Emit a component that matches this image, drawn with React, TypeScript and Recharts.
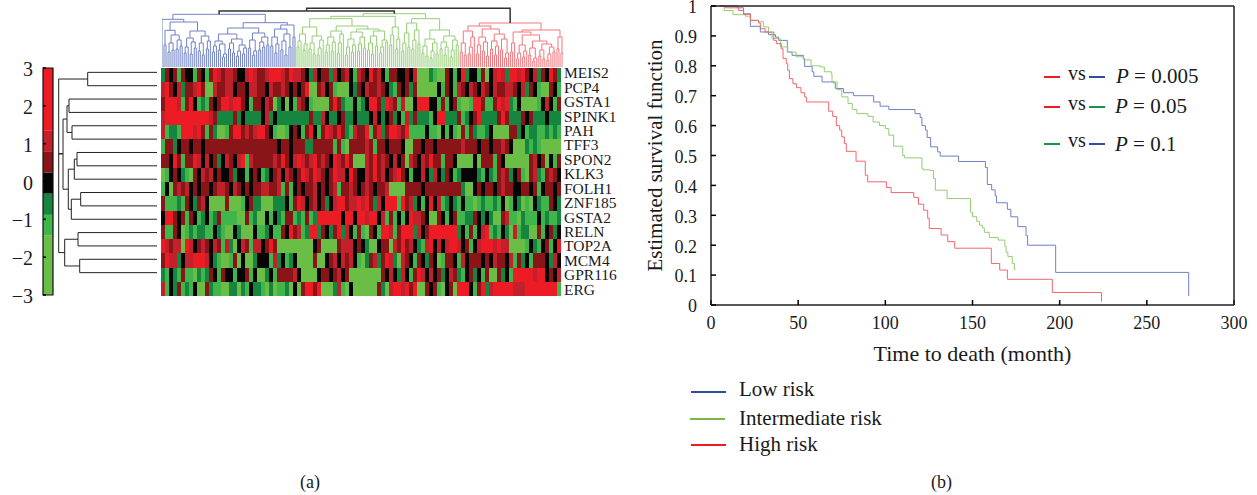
import React from 'react';
import {
  Bar,
  BarChart,
  Cell,
  Line,
  LineChart,
  ReferenceArea,
  XAxis,
  YAxis,
} from 'recharts';

const SERIF = '"Liberation Serif", serif';

// panel (a): expression levels per gene, -3 .. 3, left to right
const MEIS2 = [-1,1,0,1,-2,1,0,0,-2,1,0,-2,1,3,2,1,2,2,1,0,0,2,3,2,1,1,2,3,3,3,2,1,3,2,2,1,0,-1,2,0,1,1,-1,2,0,1,2,0,-2,2,1,0,3,1,2,0,-2,1,1,0,0,1,0,2,-3,-3,-3,-1,-2,-3,-3,1,0,-2,0,3,-1,0,0,-2,1,-3,0,2,3,2,-1,3,3,2,3,1,0,2,-1,1,0,3,1,-1];
const PCP4 = [2,3,1,0,2,-1,1,1,2,3,1,-3,-3,2,1,1,2,2,0,1,1,0,2,2,1,1,0,2,1,1,2,1,0,1,0,1,3,-3,-3,1,2,0,1,-2,-3,-3,-3,0,-1,1,0,2,1,1,2,1,0,-1,-2,1,0,1,-1,1,-3,-3,-3,-3,-3,0,-2,1,0,-2,2,1,0,2,1,0,2,1,0,2,1,1,2,2,1,0,2,-1,1,0,-2,-3,-3,1,0,-2];
const GSTA1 = [1,3,3,3,2,-2,1,3,0,-2,-1,-2,1,0,1,3,3,2,3,3,1,0,-2,1,1,0,2,1,-3,-1,0,-3,0,-2,2,1,0,-2,-3,-3,-3,-3,1,3,1,-1,-2,-2,0,-2,-1,0,3,3,1,-1,3,2,1,-2,2,-3,-3,0,3,3,3,0,0,-2,1,-2,0,1,-2,-3,-3,-2,3,3,1,-2,-2,1,3,2,3,-1,-2,0,-3,-3,-3,-3,-2,0,2,0,-2,1];
const SPINK1 = [2,3,3,3,3,3,3,3,3,3,3,3,2,1,-1,-1,-1,-1,1,-1,0,-1,-1,-1,-1,0,2,-1,0,-1,-1,-1,-1,-1,-1,-1,-1,1,-1,-1,2,0,-1,-1,0,1,-1,-1,0,-1,-1,-1,0,2,0,-1,0,1,-1,0,-2,2,-1,1,-1,-1,-1,-2,0,3,3,-1,-1,-1,1,-2,-1,0,1,3,-1,-1,-1,-1,1,3,1,-1,-1,-1,1,0,1,-1,-1,-1,0,-1,-1,-1];
const PAH = [2,-2,-1,-1,-2,3,3,3,2,3,1,-2,1,-1,-3,-3,-2,1,3,3,1,2,1,2,3,3,1,0,-2,-3,-3,-2,0,1,0,-2,1,3,0,-2,1,3,2,1,3,1,-1,-2,2,1,1,3,-2,1,3,-1,1,3,3,2,1,3,-2,-2,-2,-2,0,-2,-2,-3,0,-2,0,-2,-3,1,-2,1,-1,-2,-2,-1,0,-3,-3,-3,-3,1,1,-1,0,-2,-1,-1,-2,-2,-1,-2,-1,-2];
const TFF3 = [-2,1,1,-1,0,1,1,0,1,1,0,1,1,1,1,1,1,1,1,1,1,1,1,1,1,1,1,1,1,0,1,1,0,1,1,1,-1,-1,1,1,1,1,1,-2,1,-2,-3,1,1,1,1,2,1,-2,1,1,0,1,1,1,0,-3,-3,1,1,0,1,1,0,1,1,1,1,1,1,2,1,1,1,0,1,1,0,1,1,2,1,0,-3,-3,-3,-1,-2,-1,-2,-3,-3,-3,-3,-3];
const SPON2 = [1,1,0,3,1,-2,1,1,3,2,0,2,0,1,-1,0,2,1,0,2,3,-2,2,1,1,1,1,1,2,1,3,1,0,2,3,2,1,2,3,1,2,1,0,3,2,1,3,1,-3,-3,-3,2,1,3,1,2,1,0,2,0,1,-3,2,1,0,2,1,3,1,1,-2,1,1,0,-3,-3,-3,-3,0,-3,1,1,1,-2,1,0,-3,-3,-3,-3,-3,-3,1,2,0,1,-3,0,-2,1];
const KLK3 = [-3,-2,0,1,0,-1,-2,-3,1,0,2,1,2,0,1,0,0,1,-1,0,0,-2,0,1,0,-2,-1,0,1,2,0,2,1,0,1,3,2,1,3,2,1,0,1,3,2,2,0,3,1,0,0,2,1,3,1,2,0,1,2,3,1,0,-2,0,0,2,0,-1,2,0,-1,1,0,-2,-1,0,0,0,0,-1,-2,0,-1,-2,1,2,1,-1,0,1,-2,-3,1,2,-1,-2,1,2,1,0];
const FOLH1 = [-2,0,-3,1,2,1,2,0,1,0,1,1,0,1,2,2,1,0,2,1,0,1,0,1,1,2,2,1,1,2,-2,1,-2,0,1,0,1,1,2,0,1,0,1,2,-2,1,1,2,1,0,1,2,1,0,1,1,2,-3,-3,-3,-3,1,1,1,1,0,1,1,1,1,1,1,1,1,1,-1,-3,-3,0,1,0,1,1,0,1,2,1,1,0,0,1,1,0,1,-2,0,1,1,0,1];
const ZNF185 = [1,-2,-2,-2,-1,-2,1,0,-1,1,2,0,-3,-3,-3,-3,1,-3,-3,-3,-2,0,1,-1,-1,-3,-3,-3,-1,-1,-1,0,-2,1,3,2,0,1,2,0,1,-1,0,2,3,3,1,2,2,3,2,3,1,-1,2,0,3,3,3,-2,3,1,2,-1,0,-2,0,3,0,2,-2,-1,0,-1,-2,0,-2,-2,-3,-2,-1,-2,-2,-1,-2,0,-3,-2,0,-1,-3,-2,-3,0,-1,-2,-2,1,0,-1];
const GSTA2 = [0,3,3,1,0,1,-2,1,0,-2,-1,0,-2,-1,1,-2,-2,-2,-2,-3,-3,1,-2,-1,-3,-3,0,-2,0,-1,-2,1,1,-2,-1,-2,1,-2,-1,3,3,3,3,3,3,0,3,3,0,3,3,2,3,3,0,2,-2,1,-2,0,-2,0,3,2,2,1,0,-3,-3,1,0,-2,0,1,-2,-2,-1,-1,1,0,-1,0,-1,-3,-3,1,2,-2,-2,-3,-1,-2,-2,-2,0,-2,-1,-2,-2,-1];
const RELN = [1,-2,-2,1,0,-3,-2,-1,-2,-1,-1,-2,-2,0,-1,-2,-3,-3,0,-1,-3,-3,-3,0,-2,-2,-1,0,-2,-2,1,0,3,1,2,-2,-1,3,3,-1,1,0,-1,1,3,-1,2,0,-2,1,-2,-3,1,0,-2,3,3,2,-2,1,3,3,3,-1,2,0,1,3,3,3,3,3,3,3,-1,0,-2,1,-2,0,2,3,-2,-1,-2,0,-1,-3,2,-2,-1,-1,-3,-3,1,-2,0,1,-1,0];
const TOP2A = [3,2,1,2,2,-3,3,2,0,1,2,1,0,2,1,-2,2,-1,-3,0,2,1,-2,2,2,0,1,3,1,-3,-3,-3,-3,-3,-3,-3,-3,-3,0,1,-3,-3,-3,-3,1,2,2,2,0,1,0,-1,-3,-3,0,1,1,-3,2,1,3,1,2,0,-1,-2,2,3,0,2,0,2,3,3,2,0,1,-2,0,2,3,3,3,2,3,2,2,-3,-3,-3,-3,-2,0,-1,-2,0,1,-2,0,3];
const MCM4 = [1,3,2,2,-1,0,2,2,3,3,3,2,0,-1,-2,-3,-3,-2,1,-3,0,-3,-3,-1,0,0,0,-2,2,-1,0,-2,-1,0,-3,-3,-3,-3,1,-3,-3,0,1,2,0,2,1,2,0,-2,-3,-1,1,2,-1,1,3,2,-1,-3,2,1,0,-2,1,0,-1,1,0,-3,-2,1,1,0,-2,2,0,1,1,1,0,1,0,2,1,1,0,2,-2,1,-1,0,-2,1,1,1,0,-1,2,0];
const GPR116 = [-1,-2,0,-1,-2,1,-2,-2,-3,-1,-2,-1,1,0,-2,1,0,0,-2,0,0,1,-2,0,-3,-3,-1,0,-2,1,1,1,1,2,0,-3,-3,-3,-3,0,1,1,0,1,2,0,1,-3,-3,-3,-3,-3,-3,-3,-3,1,0,2,0,-1,2,0,-2,1,3,2,0,2,0,1,-1,0,2,1,-1,-2,0,1,-1,0,-2,1,-3,-3,1,-1,0,-2,3,3,3,3,3,2,3,3,0,1,0,2];
const ERG = [2,-2,0,-1,1,-2,-1,-2,0,-3,-3,1,-1,-2,-2,-3,-3,-1,-1,-3,-1,-2,0,-1,-1,-2,-3,-1,-3,-2,-2,-1,-3,0,-3,1,3,3,1,3,-3,-3,-3,-1,2,-2,-3,0,-3,-3,-3,-3,-3,-3,1,-1,-3,2,3,3,2,3,1,3,-3,-3,1,0,1,-2,-3,0,1,-3,3,3,3,0,-2,1,3,-1,2,3,3,3,3,3,2,2,2,3,3,3,3,3,3,3,3,-2];

const genes = ['MEIS2','PCP4','GSTA1','SPINK1','PAH','TFF3','SPON2','KLK3','FOLH1','ZNF185','GSTA2','RELN','TOP2A','MCM4','GPR116','ERG'];
const geneLevels = [MEIS2,PCP4,GSTA1,SPINK1,PAH,TFF3,SPON2,KLK3,FOLH1,ZNF185,GSTA2,RELN,TOP2A,MCM4,GPR116,ERG];
const geneTicks = [15.66,14.65,13.63,12.62,11.61,10.6,9.58,8.57,7.56,6.55,5.53,4.52,3.51,2.49,1.48,0.47];

const levelColors: Record<string, string> = {
  '3': '#ed1c24',
  '2': '#c2202a',
  '1': '#8a1518',
  '0': '#050505',
  '-1': '#15853f',
  '-2': '#3fb54a',
  '-3': '#6abd45',
};

// colour key, bottom to top
const keyBands = [1.57, 0.55, 0.56, 0.56, 0.56, 0.54, 1.66];
const keyLevels = [-3, -2, -1, 0, 1, 2, 3];
const keyLabels = ['\u22123', '\u22122', '\u22121', '0', '1', '2', '3'];
const keyTicks = [0, 1, 2, 3, 4, 5, 6];

// sample dendrogram: [merge height, left, right], 0 is a leaf
type Tree = number | Tree[];
const blueTree: Tree = [52.7,
  [47.7, 0,
    [45,
      [36.7, [22,0,0], [32,[24,[15,0,0],[17,0,0]],[27,[18,0,0],[21,0,0]]]],
      [36, [29,[20,[14,0,0],0],[25,[13,0,0],[19,0,0]]], [31,[24,[16,0,0],[12,0,0]],[26,[18,0,0],0]]],
    ],
  ],
  [44.3,
    [39,
      [33, [26,[21,[15,0,0],0],[23,[17,0,0],[13,[10,0,0],0]]], [28,[24,[18,0,0],[14,0,0]],[22,[16,[11,0,0],0],[19,[13,0,0],0]]]],
      [34, [27,[19,0,0],[16,[12,0,0],0]], [30,[25,[17,0,0],[20,0,0]],[22,0,0]]],
    ],
    [42,
      [38, [30,[21,0,0],[23,[14,0,0],0]], [33,[26,[17,0,0],[12,0,0]],[20,0,0]]],
      [30,0,0],
    ],
  ],
];
const greenTree: Tree = [53.3,
  [50.7,
    [48.3,
      [40, [33,[26,[20,0,0],0],[23,[17,0,0],0]], [31,[24,[18,0,0],[13,0,0]],[27,[19,[12,0,0],0],0]]],
      [41,
        [36, [30,[22,[15,0,0],0],[25,[16,0,0],0]], [33,[24,[14,0,0],0],0]],
        [38,
          [35,[28,[20,[12,0,0],0],[22,[15,0,0],0]],[30,[23,[16,0,0],0],[19,0,0]]],
          [36,[31,[24,[17,0,0],[13,0,0]],[21,0,0]],[27,[20,[14,0,0],0],[25,0,0]]],
        ],
      ],
    ],
    [40, [32,[22,0,0],0], [28,[18,0,0],0]],
  ],
  [48.3,
    [44, [34,[24,[16,0,0],0],[20,0,0]], [37,[27,[18,0,0],0],[23,0,0]]],
    [37,
      [28,[21,[14,0,0],[11,0,0]],[24,[16,[9,0,0],0],[13,0,0]]],
      [31,[25,[18,0,0],[20,[12,0,0],0]],[27,[17,[10,0,0],0],[22,0,0]]],
    ],
  ],
];
const redTree: Tree = [44,
  [41,
    [36, [24,[15,0,0],[12,0,0]], [30,[20,[13,0,0],0],0]],
    [38, [30,[22,[13,0,0],0],[25,[16,0,0],[11,0,0]]], [33,[26,[18,0,0],[21,[12,0,0],0]],[28,[17,0,0],[14,[9,0,0],0]]]],
  ],
  [37,
    [35,
      [24,[15,0,0],0],
      [32,
        [22,[14,[8,0,0],0],[16,[10,0,0],0]],
        [26,[19,[12,0,0],[9,[6,0,0],0]],[23,[17,[11,0,0],[8,0,0]],[20,[13,[7,0,0],0],[15,0,0]]]],
      ],
    ],
    [30,[18,0,0],[14,0,0]],
  ],
];
const clusterHeights = [56, 58.7];

// gene dendrogram: [merge height, leaf y1, child height 1, leaf y2, child height 2]
const geneLinks = [
  [69.3, 0, 0, 1, 0],
  [88, 2, 0, 3, 0],
  [85, 4, 0, 5, 0],
  [90, 2.5, 88, 4.5, 85],
  [80, 6, 0, 7, 0],
  [82.7, 6.5, 80, 8, 0],
  [76.3, 9, 0, 10, 0],
  [85.7, 9.5, 76.3, 11, 0],
  [88.7, 7.25, 82.7, 10.25, 85.7],
  [94, 3.5, 90, 8.75, 88.7],
  [79, 12, 0, 13, 0],
  [77.3, 14, 0, 15, 0],
  [92.3, 12.5, 79, 14.5, 77.3],
  [98.3, 0.5, 69.3, 13.5, 92.3],
  [98.3, 6.1, 94, 6.1, 94],
];

// panel (b): Kaplan-Meier steps, months and survival
const lowMonths = [5,15,18.7,22.6,28.3,33,37,38.8,43.8,46.5,53,53.7,58,59,63.7,70.4,71.3,76,81.8,93.3,97,102,117,120,121,123,124,126,130,131.5,142,157.4,158.5,161,163,163.8,170,172,176,180.7,181.6,197.7,274];
const lowSurvival = [1,0.994,0.974,0.932,0.913,0.904,0.896,0.885,0.846,0.835,0.824,0.798,0.78,0.765,0.746,0.743,0.724,0.71,0.7,0.679,0.665,0.654,0.64,0.627,0.6,0.585,0.56,0.529,0.512,0.498,0.48,0.46,0.403,0.385,0.365,0.342,0.32,0.295,0.262,0.232,0.2,0.109,0.03];
const midMonths = [5,7.6,12.6,19.7,22.6,27.3,30,33,35,39.8,44,48.8,53,57.4,62.7,65,69,69.4,72.3,75,78.6,81,83.7,90,93,96.6,100,102,104.8,110,111,121,121.6,125.8,127.7,128.7,135.4,148.8,150,152.4,154,155.6,156.8,159.6,164.8,168.6,169.3,170.3,172.8,174,174.7];
const midSurvival = [1,0.985,0.971,0.966,0.952,0.947,0.93,0.911,0.891,0.863,0.846,0.83,0.82,0.8,0.796,0.78,0.774,0.746,0.72,0.696,0.674,0.654,0.64,0.631,0.612,0.6,0.59,0.568,0.531,0.5,0.492,0.457,0.452,0.45,0.423,0.384,0.356,0.31,0.295,0.28,0.267,0.258,0.243,0.226,0.217,0.195,0.176,0.162,0.139,0.119,0.119];
const highMonths = [5,8.2,15.9,18.7,22.6,27.3,28.3,31,36,37.5,40.3,41.3,43.2,44,45,47,49,51.6,53.7,54.7,67.5,69.8,71.9,73.8,75,76.5,77.6,83.2,88.5,89.9,100.6,103.3,116.3,119,122,124.3,125.2,132,135.8,139.8,160.8,165.6,170,195.8,224];
const highSurvival = [1,0.994,0.985,0.972,0.952,0.943,0.924,0.913,0.885,0.874,0.857,0.824,0.807,0.785,0.757,0.74,0.727,0.71,0.696,0.679,0.648,0.631,0.6,0.585,0.562,0.54,0.514,0.481,0.434,0.412,0.393,0.376,0.36,0.337,0.317,0.29,0.256,0.234,0.212,0.19,0.139,0.117,0.086,0.042,0.011];

const monthTicks = [0, 50, 100, 150, 200, 250, 300];
const survivalTicks = [0, 0.1, 0.2, 0.3, 0.4, 0.5, 0.6, 0.7, 0.8, 0.9, 1];

type Pt = { x: number; y: number | null };

const heatmapRows = MEIS2.map((_, col) => {
  const row: Record<string, number> = { col };
  genes.forEach(g => {
    row[g] = 1;
  });
  return row;
});

const keyRow: Record<string, number | string> = { name: 'key' };
keyBands.forEach((v, i) => {
  keyRow[`b${i}`] = v;
});

const stepPoints = (months: number[], survival: number[]) =>
  months.map((m, i) => ({ x: m, y: survival[i] }));

// lays the leaves out in order, one U shape per merge
const leafCursor = { next: 0 };
const treeSegments = (tree: Tree, out: Pt[]): { x: number; h: number } => {
  if (!Array.isArray(tree)) return { x: leafCursor.next++, h: 0 };
  const [h, a, b] = tree as [number, Tree, Tree];
  const l = treeSegments(a, out);
  const r = treeSegments(b, out);
  out.push({ x: l.x, y: l.h }, { x: l.x, y: h }, { x: r.x, y: h }, { x: r.x, y: r.h }, { x: r.x, y: null });
  return { x: (l.x + r.x) / 2, h };
};

const bluePts: Pt[] = [];
const greenPts: Pt[] = [];
const redPts: Pt[] = [];
const blackPts: Pt[] = [];
const blueRoot = treeSegments(blueTree, bluePts);
const greenRoot = treeSegments(greenTree, greenPts);
const redRoot = treeSegments(redTree, redPts);
const joinX = (blueRoot.x + greenRoot.x) / 2;
blackPts.push(
  { x: blueRoot.x, y: blueRoot.h }, { x: blueRoot.x, y: clusterHeights[0] },
  { x: greenRoot.x, y: clusterHeights[0] }, { x: greenRoot.x, y: greenRoot.h }, { x: greenRoot.x, y: null },
  { x: joinX, y: clusterHeights[0] }, { x: joinX, y: clusterHeights[1] },
  { x: redRoot.x, y: clusterHeights[1] }, { x: redRoot.x, y: redRoot.h },
);

const genePts: Pt[] = [];
geneLinks.forEach(([h, y1, d1, y2, d2]) => {
  genePts.push({ x: d1, y: y1 }, { x: h, y: y1 }, { x: h, y: y2 }, { x: d2, y: y2 }, { x: d2, y: null });
});

const axisText = { fontFamily: SERIF, fontSize: 18, fill: '#1a1a1a' };

const Place: React.FC<{ left: number; top: number; children: React.ReactNode }> = ({ left, top, children }) => (
  <div style={{ position: 'absolute', left, top }}>{children}</div>
);

const Swatch: React.FC<{ left: number; top: number; width: number; color: string }> = ({ left, top, width, color }) => (
  <div style={{ position: 'absolute', left, top, width, height: 2, background: color }} />
);

const Note: React.FC<{ left: number; base: number; size?: number; children: React.ReactNode }> = ({ left, base, size = 21, children }) => (
  <div
    style={{
      position: 'absolute',
      left,
      top: base - size * 0.89,
      fontFamily: SERIF,
      fontSize: size,
      lineHeight: 1,
      color: '#1a1a1a',
      whiteSpace: 'pre',
    }}
  >
    {children}
  </div>
);

const App: React.FC = () => (
  <div style={{ position: 'absolute', left: 0, top: 0, width: 1257, height: 495, overflow: 'hidden', background: '#fff' }}>
    {/* colour key: bands first, then frame and ticks on top */}
    <Place left={0} top={48}>
      <BarChart
        width={60}
        height={265}
        data={[keyRow]}
        margin={{ top: 20, right: 7, bottom: 18, left: 43 }}
        barCategoryGap={0}
      >
        <XAxis dataKey="name" hide />
        <YAxis type="number" domain={[0, 6]} hide />
        {keyBands.map((_, i) => (
          <Bar key={i} dataKey={`b${i}`} stackId="k" fill={levelColors[String(keyLevels[i])]} isAnimationActive={false} />
        ))}
      </BarChart>
    </Place>
    <Place left={0} top={48}>
      <BarChart
        width={60}
        height={265}
        data={[keyRow]}
        margin={{ top: 20, right: 6, bottom: 18, left: 0 }}
      >
        <XAxis dataKey="name" hide />
        <YAxis
          type="number"
          domain={[0, 6]}
          ticks={keyTicks}
          interval={0}
          width={43}
          tickSize={-3}
          tickMargin={13}
          axisLine={false}
          tickLine={{ stroke: '#000', strokeWidth: 1.5 }}
          tick={{ ...axisText, fontSize: 20, dy: 1 }}
          tickFormatter={(v: number) => keyLabels[v]}
        />
        <YAxis
          yAxisId="r"
          orientation="right"
          type="number"
          domain={[0, 6]}
          ticks={keyTicks}
          interval={0}
          width={1}
          tickSize={-3}
          axisLine={false}
          tickLine={{ stroke: '#000', strokeWidth: 1.5 }}
          tickFormatter={() => ''}
        />
        <Bar dataKey="b0" fill="none" isAnimationActive={false} />
        <ReferenceArea y1={0} y2={6} fill="none" stroke="#111" strokeWidth={1.2} ifOverflow="visible" />
      </BarChart>
    </Place>

    {/* gene dendrogram */}
    <Place left={57} top={58.65}>
      <LineChart width={100} height={227} margin={{ top: 0, right: 0, bottom: 0, left: 0 }}>
        <XAxis type="number" dataKey="x" domain={[0, 100]} reversed hide />
        <YAxis type="number" domain={[-1, 16]} reversed hide />
        <Line data={genePts} dataKey="y" stroke="#222" strokeWidth={1} dot={false} activeDot={false} isAnimationActive={false} />
      </LineChart>
    </Place>

    {/* sample dendrogram */}
    <Place left={162} top={0}>
      <LineChart width={401} height={67} margin={{ top: 0, right: 0, bottom: 0, left: 0 }}>
        <XAxis type="number" dataKey="x" domain={[0, 199]} hide />
        <YAxis type="number" domain={[0, 67]} hide />
        <Line data={bluePts} dataKey="y" stroke="#7082c4" strokeWidth={1} dot={false} activeDot={false} isAnimationActive={false} />
        <Line data={greenPts} dataKey="y" stroke="#96ce76" strokeWidth={1} dot={false} activeDot={false} isAnimationActive={false} />
        <Line data={redPts} dataKey="y" stroke="#f4767b" strokeWidth={1} dot={false} activeDot={false} isAnimationActive={false} />
        <Line data={blackPts} dataKey="y" stroke="#333" strokeWidth={1.5} dot={false} activeDot={false} isAnimationActive={false} />
      </LineChart>
    </Place>

    {/* heat map */}
    <Place left={161} top={58}>
      <BarChart
        width={460}
        height={248}
        data={heatmapRows}
        margin={{ top: 10, right: 0, bottom: 10, left: 0 }}
        barCategoryGap={0}
      >
        <XAxis dataKey="col" hide />
        <YAxis
          orientation="right"
          type="number"
          domain={[0, 16]}
          ticks={geneTicks}
          interval={0}
          width={60}
          tickSize={0}
          tickMargin={3}
          axisLine={false}
          tickLine={false}
          tick={{ fontFamily: SERIF, fontSize: 15.5, fill: '#1a1a1a' }}
          tickFormatter={(v: number) => genes[geneTicks.indexOf(v)]}
        />
        {[...genes].reverse().map(g => (
          <Bar key={g} dataKey={g} stackId="h" isAnimationActive={false}>
            {heatmapRows.map((_, col) => (
              <Cell
                key={col}
                fill={levelColors[String(geneLevels[genes.indexOf(g)][col] ?? 0)]}
                shapeRendering="crispEdges"
              />
            ))}
          </Bar>
        ))}
      </BarChart>
    </Place>

    {/* survival curves */}
    <Place left={640} top={0}>
      <LineChart width={610} height={365} margin={{ top: 5, right: 15, bottom: 0, left: 5 }}>
        <XAxis
          type="number"
          dataKey="x"
          domain={[0, 300]}
          ticks={monthTicks}
          interval={0}
          height={60}
          tickSize={-5}
          tickMargin={16}
          axisLine={{ stroke: '#222', strokeWidth: 1.5 }}
          tickLine={{ stroke: '#000', strokeWidth: 1.5 }}
          tick={axisText}
          label={{ value: 'Time to death (month)', position: 'insideBottom', offset: 4, style: { ...axisText, fontSize: 22 } }}
        />
        <XAxis
          xAxisId="top"
          orientation="top"
          type="number"
          domain={[0, 300]}
          ticks={monthTicks}
          interval={0}
          height={1}
          tickSize={-5}
          axisLine={{ stroke: '#222', strokeWidth: 1.5 }}
          tickLine={{ stroke: '#000', strokeWidth: 1.5 }}
          tickFormatter={() => ''}
        />
        <YAxis
          type="number"
          domain={[0, 1]}
          ticks={survivalTicks}
          interval={0}
          width={66}
          tickSize={-5}
          tickMargin={19}
          axisLine={{ stroke: '#222', strokeWidth: 1.5 }}
          tickLine={{ stroke: '#000', strokeWidth: 1.5 }}
          tick={{ ...axisText, dy: 1 }}
          label={{
            value: 'Estimated survival function',
            angle: -90,
            position: 'insideLeft',
            offset: 10,
            style: { ...axisText, fontSize: 21, textAnchor: 'middle' },
          }}
        />
        <YAxis
          yAxisId="right"
          orientation="right"
          type="number"
          domain={[0, 1]}
          ticks={survivalTicks}
          interval={0}
          width={1}
          tickSize={-5}
          axisLine={{ stroke: '#222', strokeWidth: 1.5 }}
          tickLine={{ stroke: '#000', strokeWidth: 1.5 }}
          tickFormatter={() => ''}
        />
        <Line data={stepPoints(lowMonths, lowSurvival)} dataKey="y" name="Low risk" type="stepAfter" stroke="#6f81c2" strokeWidth={1} dot={false} activeDot={false} isAnimationActive={false} />
        <Line data={stepPoints(midMonths, midSurvival)} dataKey="y" name="Intermediate risk" type="stepAfter" stroke="#93cd72" strokeWidth={1} dot={false} activeDot={false} isAnimationActive={false} />
        <Line data={stepPoints(highMonths, highSurvival)} dataKey="y" name="High risk" type="stepAfter" stroke="#f4666c" strokeWidth={1} dot={false} activeDot={false} isAnimationActive={false} />
      </LineChart>
    </Place>

    {/* pairwise comparisons */}
    <Swatch left={1044} top={76} width={16} color="#ed1c24" />
    <Note left={1068} base={81} size={20}>vs</Note>
    <Swatch left={1089} top={76} width={16} color="#2e4ea0" />
    <Note left={1116} base={85}><i>P</i> = 0.005</Note>
    <Swatch left={1044} top={106} width={16} color="#ed1c24" />
    <Note left={1068} base={111} size={20}>vs</Note>
    <Swatch left={1089} top={106} width={16} color="#1a9447" />
    <Note left={1115} base={115}><i>P</i> = 0.05</Note>
    <Swatch left={1044} top={143} width={16} color="#1a9447" />
    <Note left={1068} base={148} size={20}>vs</Note>
    <Swatch left={1089} top={143} width={16} color="#2e4ea0" />
    <Note left={1115} base={153}><i>P</i> = 0.1</Note>

    {/* risk legend */}
    <Swatch left={691} top={391} width={35} color="#2e4ea0" />
    <Note left={739} base={398}>Low risk</Note>
    <Swatch left={690} top={418} width={35} color="#7ab648" />
    <Note left={739} base={427}>Intermediate risk</Note>
    <Swatch left={691} top={444} width={35} color="#ed1c24" />
    <Note left={739} base={453}>High risk</Note>

    <Note left={300} base={489} size={18}>(a)</Note>
    <Note left={931} base={489} size={18}>(b)</Note>
  </div>
);

export default App;
